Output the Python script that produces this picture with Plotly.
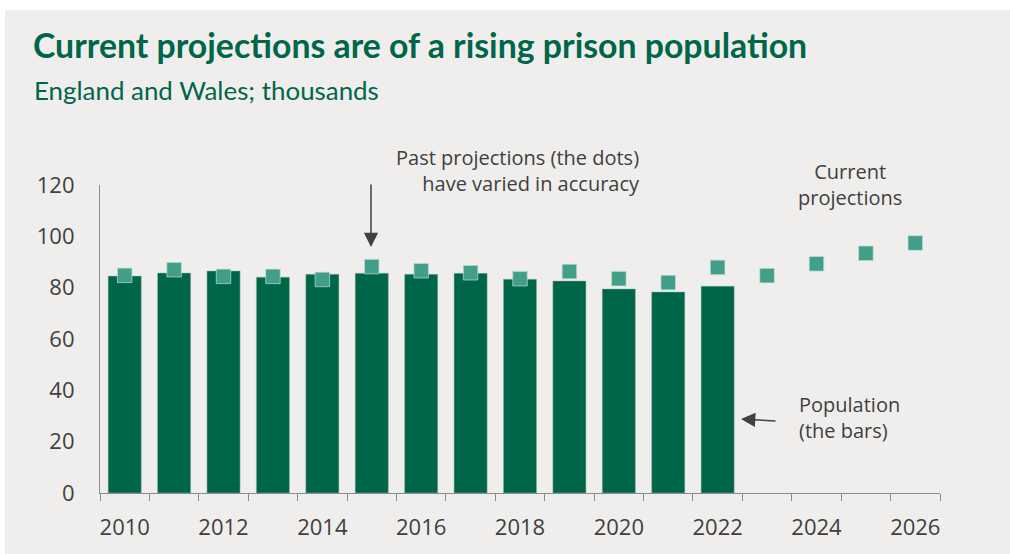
import plotly.graph_objects as go

# Prison population, England and Wales (thousands)
years_actual = [2010, 2011, 2012, 2013, 2014, 2015, 2016, 2017, 2018, 2019, 2020, 2021, 2022]
population = [84.5, 85.7, 86.5, 84.1, 85.2, 85.6, 85.2, 85.6, 83.3, 82.6, 79.5, 78.3, 80.6]

# Projections: past projections (to 2022) and the current projection (2023 onwards)
years_proj = [2010, 2011, 2012, 2013, 2014, 2015, 2016, 2017, 2018, 2019, 2020, 2021, 2022,
              2023, 2024, 2025, 2026]
projection = [84.8, 87.0, 84.4, 84.4, 83.2, 88.2, 86.6, 85.8, 83.5, 86.3, 83.5, 82.0, 87.9,
              84.7, 89.3, 93.4, 97.4]

x_tick_vals = [2010, 2012, 2014, 2016, 2018, 2020, 2022, 2024, 2026]
x_tick_text = ["2010", "2012", "2014", "2016", "2018", "2020", "2022", "2024", "2026"]
y_tick_vals = [0, 20, 40, 60, 80, 100, 120]

title_text = "Current projections are of a rising prison population"
subtitle_text = "England and Wales; thousands"

DARK_GREEN = "#00664a"
DOT_GREEN = "#409e89"
BG = "#efeeec"
TEXT_GREY = "#404040"
AXIS_GREY = "#8c8c8c"

W, H = 1010, 554
L, R, T, B = 100, 940, 185, 493


def px(xp):
    return (xp - L) / (R - L)


def py(yp):
    return (B - yp) / (B - T)


fig = go.Figure()

fig.add_trace(go.Bar(
    x=years_actual,
    y=population,
    width=0.67,
    marker=dict(color=DARK_GREEN, line=dict(color="rgba(150,185,170,0.8)", width=0.6)),
    hoverinfo="x+y",
))

fig.add_trace(go.Scatter(
    x=years_proj,
    y=projection,
    mode="markers",
    marker=dict(symbol="square", size=14.5, color=DOT_GREEN,
                line=dict(color="rgba(190,220,210,0.7)", width=1)),
    hoverinfo="x+y",
))

boundaries = [y - 0.5 for y in years_proj] + [years_proj[-1] + 0.5]

fig.update_layout(
    width=W,
    height=H,
    margin=dict(l=L, r=W - R, t=T, b=H - B, pad=0),
    paper_bgcolor=BG,
    plot_bgcolor="rgba(0,0,0,0)",
    showlegend=False,
    bargap=0.33,
    font=dict(family="Open Sans", color=TEXT_GREY),
    title=dict(
        text=title_text,
        x=33 / W, xanchor="left", xref="container",
        y=1 - 46 / H, yanchor="middle",
        font=dict(family="Lato", size=33.8, color=DARK_GREEN, weight="bold"),
    ),
    xaxis=dict(
        range=[years_proj[0] - 0.5, years_proj[-1] + 0.5],
        tickmode="array",
        tickvals=x_tick_vals,
        ticktext=x_tick_text,
        ticks="",
        showgrid=False,
        zeroline=False,
        showline=True,
        linecolor=AXIS_GREY,
        linewidth=1.2,
        tickfont=dict(family="Open Sans", size=22, color=TEXT_GREY),
        ticklabelstandoff=14,
        minor=dict(tickmode="array", tickvals=boundaries, ticks="outside",
                   ticklen=7, tickcolor=AXIS_GREY, tickwidth=1.2, showgrid=False),
        fixedrange=True,
    ),
    yaxis=dict(
        range=[0, 120],
        tickmode="array",
        tickvals=y_tick_vals,
        ticks="",
        showgrid=False,
        zeroline=False,
        showline=True,
        linecolor=AXIS_GREY,
        linewidth=1.2,
        tickfont=dict(family="Open Sans", size=22, color=TEXT_GREY),
        ticklabelstandoff=20,
        fixedrange=True,
    ),
)

# white border strips along the top and left edges of the page
fig.add_shape(type="rect", xref="paper", yref="paper",
              x0=px(-5), x1=px(W + 5), y0=py(10), y1=py(-5),
              fillcolor="white", line=dict(width=0), layer="above")
fig.add_shape(type="rect", xref="paper", yref="paper",
              x0=px(-5), x1=px(5), y0=py(H + 5), y1=py(-5),
              fillcolor="white", line=dict(width=0), layer="above")

annot_font = dict(family="Open Sans", size=20, color=TEXT_GREY)

# subtitle
fig.add_annotation(text=subtitle_text, xref="paper", yref="paper",
                   x=px(32), y=py(90), xanchor="left", yanchor="middle",
                   showarrow=False,
                   font=dict(family="Lato", size=25.9, color=DARK_GREEN))

# callout labels
fig.add_annotation(text="Past projections (the dots)<br>have varied in accuracy",
                   xref="paper", yref="paper", x=px(642), y=py(170),
                   xanchor="right", yanchor="middle", align="right",
                   showarrow=False, font=annot_font)
fig.add_annotation(text="Current<br>projections",
                   xref="paper", yref="paper", x=px(850), y=py(184),
                   xanchor="center", yanchor="middle", align="center",
                   showarrow=False, font=annot_font)
fig.add_annotation(text="Population<br>(the bars)",
                   xref="paper", yref="paper", x=px(797), y=py(417),
                   xanchor="left", yanchor="middle", align="left",
                   showarrow=False, font=annot_font)

# arrows
fig.add_annotation(text="", xref="paper", yref="paper",
                   x=px(371), y=py(247), ax=0, ay=-64,
                   showarrow=True, arrowhead=2, arrowsize=1.9, arrowwidth=1.5,
                   arrowcolor=TEXT_GREY)
fig.add_annotation(text="", xref="paper", yref="paper",
                   x=px(741), y=py(419), ax=36, ay=2,
                   showarrow=True, arrowhead=2, arrowsize=1.9, arrowwidth=1.5,
                   arrowcolor=TEXT_GREY)

fig.write_html("out.html")
